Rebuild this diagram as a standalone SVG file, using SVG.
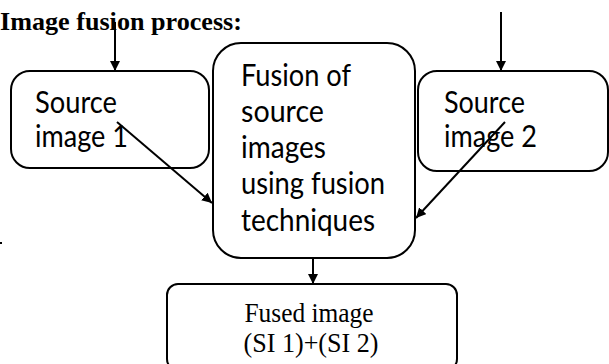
<svg xmlns="http://www.w3.org/2000/svg" width="609" height="364" viewBox="0 0 609 364">
<style>
.box{fill:#fff;stroke:#000;stroke-width:2}
.lbl{font-family:Lato,"Liberation Sans",sans-serif;font-size:30px;fill:#000}
.tnr{font-family:"Liberation Serif","Times New Roman",serif;font-size:27px;fill:#000}
.ttl{font-family:"Liberation Serif","Times New Roman",serif;font-size:26px;font-weight:bold;fill:#000}
.con{stroke:#000;stroke-width:2;fill:none;marker-end:url(#ah)}
</style>
<defs>
<marker id="ah" viewBox="0 0 10 10" refX="10" refY="5" markerWidth="5" markerHeight="5" orient="auto" markerUnits="strokeWidth">
<path d="M0,0 L10,5 L0,10 z" fill="#000"/>
</marker>
</defs>
<rect width="609" height="364" fill="#fff"/>
<text class="ttl" x="0" y="30" textLength="242" lengthAdjust="spacingAndGlyphs">Image  fusion process:</text>
<rect x="0" y="242" width="2" height="2" fill="#000"/>
<g id="source1">
<rect class="box" x="11" y="71" width="198" height="97" rx="19"/>
<text class="lbl" x="35" y="113" textLength="82" lengthAdjust="spacingAndGlyphs">Source</text>
<text class="lbl" x="35" y="147" textLength="93" lengthAdjust="spacingAndGlyphs">image 1</text>
</g>
<g id="fusion">
<rect class="box" x="213" y="43" width="202" height="215" rx="28"/>
<text class="lbl" x="241" y="86" textLength="110" lengthAdjust="spacingAndGlyphs">Fusion of</text>
<text class="lbl" x="241" y="122" textLength="83" lengthAdjust="spacingAndGlyphs">source</text>
<text class="lbl" x="241" y="158" textLength="85" lengthAdjust="spacingAndGlyphs">images</text>
<text class="lbl" x="241" y="194" textLength="144" lengthAdjust="spacingAndGlyphs">using fusion</text>
<text class="lbl" x="241" y="231" textLength="134" lengthAdjust="spacingAndGlyphs">techniques</text>
</g>
<g id="source2">
<rect class="box" x="418" y="71" width="190" height="100" rx="19"/>
<text class="lbl" x="444" y="113" textLength="81" lengthAdjust="spacingAndGlyphs">Source</text>
<text class="lbl" x="444" y="147" textLength="93" lengthAdjust="spacingAndGlyphs">image 2</text>
</g>
<g id="fused">
<rect class="box" x="167" y="284" width="290" height="86" rx="11"/>
<text class="tnr" x="309" y="322" text-anchor="middle" textLength="129" lengthAdjust="spacingAndGlyphs">Fused image</text>
<text class="tnr" x="311" y="352" text-anchor="middle" textLength="135" lengthAdjust="spacingAndGlyphs">(SI  1)+(SI  2)</text>
</g>
<g id="connectors">
<line class="con" x1="115" y1="22" x2="115" y2="71"/>
<line class="con" x1="501" y1="12" x2="501" y2="71"/>
<line class="con" x1="117" y1="122" x2="212" y2="203"/>
<line class="con" x1="505" y1="122" x2="416" y2="218"/>
<line class="con" x1="313" y1="258" x2="313" y2="284"/>
</g>
</svg>
